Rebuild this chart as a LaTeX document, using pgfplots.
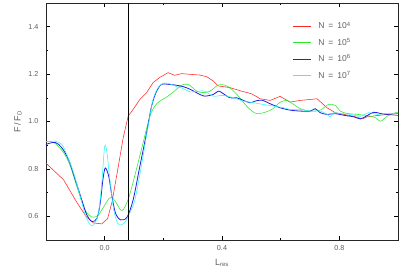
\documentclass[border=0pt]{standalone}
\usepackage{pgfplots}
\pgfplotsset{compat=1.18}
\usepackage{fontspec}
\setmainfont{Liberation Sans}
\definecolor{cred}{RGB}{255,40,40}
\definecolor{cgreen}{RGB}{40,235,40}
\definecolor{cblue}{RGB}{30,30,230}
\definecolor{ccyan}{RGB}{40,250,250}
\definecolor{tgray}{RGB}{95,95,95}
\begin{document}
\begin{tikzpicture}
\begin{axis}[
  scale only axis, width=352pt, height=237pt,
  xmin=-0.2, xmax=1.0, ymin=0.5, ymax=1.5,
  xtick={0,0.4,0.8}, minor xtick={0.2,0.6},
  ytick={0.6,0.8,1.0,1.2,1.4}, minor ytick={0.7,0.9,1.1,1.3},
  xticklabels={0.0,0.4,0.8},
  yticklabels={0.6,0.8,1.0,1.2,1.4},
  tick align=inside, major tick length=4pt, minor tick length=2pt,
  every tick/.style={black, line width=0.5pt},
  axis line style={black!85, line width=0.6pt},
  tick label style={font=\fontsize{7.2}{8}\selectfont, text=tgray},
  xticklabel style={yshift=-2pt},
  yticklabel style={xshift=-4pt},
  xlabel={L$_{\mathrm{res}}$}, ylabel={F\,/\,F$_{\mathrm{D}}$},
  label style={font=\fontsize{9}{10}\selectfont, text=tgray},
  xlabel style={yshift=-2pt},
  ylabel style={yshift=0pt},
  legend style={draw=none, fill=none, at={(0.6997,0.925)}, anchor=north west,
    font=\fontsize{8.5}{9}\selectfont, text=tgray, row sep=6pt,
    inner sep=0pt, nodes={inner sep=1pt}},
  legend cell align=left,
  legend image code/.code={\draw[#1] (0pt,0pt) -- (18.5pt,0pt); \path (24pt,0pt);},
]
\addplot[cred, line width=0.55pt] coordinates {
(-0.2017,0.826) (-0.140,0.754) (-0.096,0.661) (-0.062,0.597) (-0.038,0.572) (-0.010,0.568)
(0.010,0.590) (0.025,0.660) (0.045,0.800) (0.063,0.930) (0.080,1.022) (0.097,1.051) (0.120,1.093)
(0.143,1.122) (0.165,1.164) (0.188,1.186) (0.216,1.206) (0.239,1.195) (0.262,1.202) (0.291,1.199)
(0.325,1.196) (0.348,1.189) (0.370,1.171) (0.387,1.150) (0.427,1.143) (0.467,1.128) (0.501,1.117)
(0.530,1.096) (0.564,1.089) (0.598,1.106) (0.632,1.082) (0.667,1.089) (0.701,1.093) (0.724,1.096)
(0.758,1.058) (0.786,1.037) (0.815,1.030) (0.849,1.022) (0.878,1.011) (0.895,1.020) (0.929,1.025)
(0.963,1.030) (1.0,1.025)};
\addlegendentry{N\hspace{4pt}=\hspace{4pt}10\textsuperscript{4}}
\addplot[cgreen, line width=0.55pt, smooth] coordinates {
(-0.2017,0.915) (-0.174,0.912) (-0.140,0.869) (-0.117,0.811) (-0.095,0.726) (-0.072,0.641)
(-0.055,0.606) (-0.038,0.596) (-0.021,0.606) (-0.003,0.641) (0.014,0.674) (0.025,0.679)
(0.037,0.662) (0.054,0.627) (0.065,0.631) (0.082,0.678) (0.099,0.754) (0.108,0.797) (0.131,0.910)
(0.154,1.022) (0.171,1.065) (0.188,1.086) (0.216,1.107) (0.245,1.136) (0.262,1.153) (0.285,1.157)
(0.314,1.128) (0.336,1.122) (0.359,1.128) (0.387,1.154) (0.410,1.153) (0.433,1.136) (0.456,1.107)
(0.479,1.072) (0.502,1.044) (0.519,1.033) (0.541,1.037) (0.570,1.051) (0.598,1.081) (0.621,1.089)
(0.644,1.072) (0.667,1.054) (0.701,1.044) (0.735,1.048) (0.763,1.072) (0.786,1.068) (0.803,1.044)
(0.826,1.034) (0.861,1.030) (0.895,1.025) (0.923,1.016) (0.940,1.001) (0.963,1.022) (0.991,1.037)
(1.0,1.037)};
\addlegendentry{N\hspace{4pt}=\hspace{4pt}10\textsuperscript{5}}
\addplot[cblue, line width=0.8pt, smooth] coordinates {
(-0.2017,0.903) (-0.169,0.912) (-0.146,0.889) (-0.123,0.839) (-0.100,0.754) (-0.078,0.669)
(-0.061,0.606) (-0.043,0.578) (-0.026,0.592) (-0.015,0.657) (-0.006,0.754) (0.002,0.804)
(0.014,0.768) (0.025,0.683) (0.037,0.613) (0.054,0.585) (0.076,0.596) (0.097,0.669) (0.120,0.811)
(0.143,0.952) (0.160,1.065) (0.177,1.128) (0.194,1.157) (0.216,1.157) (0.245,1.153) (0.268,1.147)
(0.291,1.136) (0.325,1.114) (0.342,1.107) (0.370,1.114) (0.387,1.128) (0.399,1.122) (0.427,1.100)
(0.450,1.100) (0.473,1.089) (0.496,1.079) (0.513,1.086) (0.536,1.090) (0.564,1.075) (0.598,1.058)
(0.632,1.048) (0.667,1.044) (0.701,1.044) (0.718,1.054) (0.735,1.037) (0.758,1.030) (0.786,1.033)
(0.821,1.025) (0.849,1.020) (0.872,1.011) (0.895,1.025) (0.917,1.039) (0.940,1.034) (0.963,1.030)
(1.0,1.034)};
\addlegendentry{N\hspace{4pt}=\hspace{4pt}10\textsuperscript{6}}
\addplot[ccyan, line width=0.55pt, smooth] coordinates {
(-0.2017,0.915) (-0.169,0.917) (-0.146,0.903) (-0.129,0.860) (-0.106,0.783) (-0.083,0.683)
(-0.066,0.606) (-0.049,0.564) (-0.038,0.564) (-0.021,0.613) (-0.009,0.754) (0.000,0.895)
(0.008,0.867) (0.019,0.740) (0.031,0.627) (0.044,0.571) (0.056,0.564) (0.071,0.578) (0.088,0.620)
(0.103,0.669) (0.125,0.811) (0.148,0.980) (0.165,1.093) (0.182,1.143) (0.199,1.161) (0.216,1.161)
(0.239,1.150) (0.268,1.139) (0.291,1.125) (0.319,1.128) (0.342,1.128) (0.370,1.107) (0.404,1.110)
(0.439,1.100) (0.473,1.086) (0.507,1.079) (0.541,1.072) (0.575,1.065) (0.610,1.058) (0.632,1.051)
(0.667,1.051) (0.701,1.044) (0.735,1.044) (0.758,1.030) (0.769,1.020) (0.781,1.037) (0.803,1.034)
(0.838,1.030) (0.872,1.022) (0.900,1.037) (0.929,1.030) (0.963,1.034) (1.0,1.033)};
\addlegendentry{N\hspace{4pt}=\hspace{4pt}10\textsuperscript{7}}
\addplot[black, line width=0.6pt, forget plot] coordinates {(0.08,0.5) (0.08,1.5)};
\end{axis}
\pgfresetboundingbox
\useasboundingbox ([shift={(-46pt,-34pt)}]current axis.south west) rectangle ([shift={(17pt,3pt)}]current axis.north east);
\end{tikzpicture}
\end{document}
